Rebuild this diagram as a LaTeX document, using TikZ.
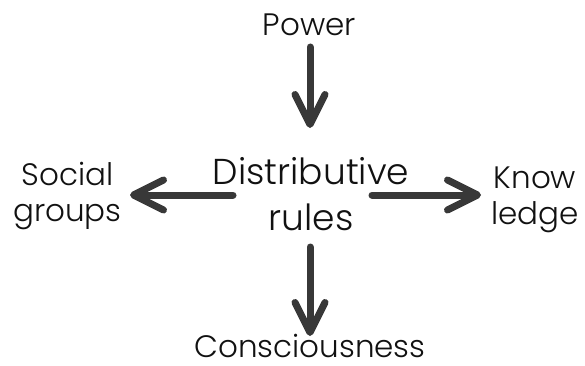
\documentclass[tikz,border=0pt]{standalone}
\usepackage{fontspec}
\setmainfont{Poppins}[UprightFont=* Light]
\usetikzlibrary{arrows.meta}
\definecolor{arrowgray}{HTML}{383838}
\definecolor{textblack}{HTML}{111111}
\tikzset{
  lbl/.style={inner sep=0pt, text=textblack, font=\fontsize{31}{36}\selectfont, align=center, anchor=base},
  biglbl/.style={inner sep=0pt, text=textblack, font=\fontsize{36}{46}\selectfont, align=center, anchor=base},
  arr/.style={draw=arrowgray, line width=7pt, line cap=round,
    -{Straight Barb[length=30pt, width=30pt, line cap=round, line join=round]}}
}
\begin{document}
\begin{tikzpicture}[x=1pt,y=1pt]
\useasboundingbox (0,0) rectangle (585,365);
\node[lbl] (power) at (309.5,330) {Power};
\node[biglbl] (dist) at (311,135) {Distributive\\rules};
\node[lbl] (social) at (67.5,144) {Social\\groups};
\node[lbl] (know) at (535,141) {Know\\ledge};
\node[lbl, text depth=0pt] (cons) at (310,8) {Consciousness};
\draw[arr] ([xshift=0.5pt,yshift=-12pt]power.base) -- ([xshift=-1pt,yshift=102pt]dist.base);
\draw[arr] ([xshift=-78pt,yshift=35pt]dist.base) -- ([xshift=62.5pt,yshift=26pt]social.base);
\draw[arr] ([xshift=61pt,yshift=35pt]dist.base) -- ([xshift=-54pt,yshift=29pt]know.base);
\draw[arr] ([xshift=-1pt,yshift=-17pt]dist.base) -- ([yshift=21pt]cons.base);
\end{tikzpicture}
\end{document}
